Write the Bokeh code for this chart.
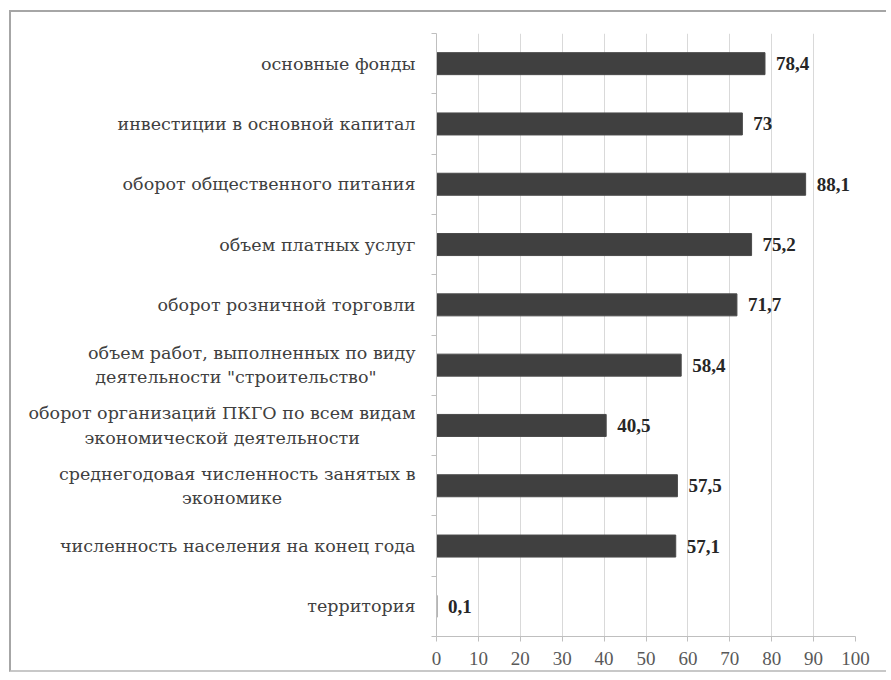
from bokeh.plotting import figure
from bokeh.models import Range1d, FixedTicker, ColumnDataSource, LabelSet
from bokeh.embed import file_html
from bokeh.resources import INLINE

# ---- data (top to bottom as in the chart) ----
categories = [
    "основные фонды",
    "инвестиции в основной капитал",
    "оборот общественного питания",
    "объем платных услуг",
    "оборот розничной торговли",
    "объем работ, выполненных по виду\nдеятельности \"строительство\"",
    "оборот организаций ПКГО по всем видам\nэкономической деятельности",
    "среднегодовая численность занятых в\nэкономике",
    "численность населения на конец года",
    "территория",
]
values = [78.4, 73.0, 88.1, 75.2, 71.7, 58.4, 40.5, 57.5, 57.1, 0.1]
value_labels = ["78,4", "73", "88,1", "75,2", "71,7", "58,4", "40,5", "57,5", "57,1", "0,1"]
x_ticks = [0, 10, 20, 30, 40, 50, 60, 70, 80, 90, 100]

SERIF = "Liberation Serif"
CAT_FONT = "DejaVu Serif"
# trailing no-break spaces that visually centre the second line of two-line labels
SECOND_LINE_PAD = {5: 7, 6: 10, 7: 24}

n = len(categories)
ypos = [n - 0.5 - i for i in range(n)]
bounds = list(range(n + 1))


def shown(i, text):
    lines = text.split("\n")
    if len(lines) == 2:
        lines[1] = lines[1] + "\u00a0" * SECOND_LINE_PAD.get(i, 0)
    return "\n".join(lines)


p = figure(width=875, height=658, output_backend="svg", toolbar_location=None,
           x_range=Range1d(0, 100), y_range=Range1d(0, n),
           frame_width=419, frame_height=603,
           min_border_left=425, min_border_right=31, min_border_top=21, min_border_bottom=34)
p.styles = {"margin-left": "9px", "margin-top": "10px",
            "border-left": "2px solid #a6a6a6", "border-top": "2px solid #a6a6a6",
            "border-bottom": "2px solid #c8c8c8"}
p.outline_line_color = None

src = ColumnDataSource(dict(y=ypos, v=values, lab=value_labels))
p.hbar(y="y", right="v", left=0, height=0.365, source=src,
       fill_color="#404040", line_color="#4a4a4a", line_width=1)

p.ygrid.grid_line_color = None
p.xgrid.grid_line_color = "#d9d9d9"
p.xgrid.ticker = FixedTicker(ticks=x_ticks)

xa = p.xaxis[0]
xa.ticker = FixedTicker(ticks=x_ticks)
xa.axis_line_color = "#bfbfbf"
xa.major_tick_line_color = "#bfbfbf"
xa.major_tick_out = 5
xa.major_tick_in = 0
xa.minor_tick_line_color = None
xa.major_label_text_font = SERIF
xa.major_label_text_font_size = "19px"
xa.major_label_text_color = "#595959"
xa.major_label_standoff = 10

ya = p.yaxis[0]
ya.ticker = FixedTicker(ticks=ypos, minor_ticks=bounds)
ya.major_label_overrides = {y: shown(i, c) for i, (y, c) in enumerate(zip(ypos, categories))}
ya.axis_line_color = "#bfbfbf"
ya.major_tick_line_color = None
ya.major_tick_out = 0
ya.major_tick_in = 0
ya.minor_tick_line_color = "#bfbfbf"
ya.minor_tick_out = 5
ya.minor_tick_in = 0
ya.major_label_standoff = 16
ya.major_label_text_font = CAT_FONT
ya.major_label_text_font_size = "17.5px"
ya.major_label_text_color = "#404040"
ya.major_label_text_line_height = 1.22

p.add_layout(LabelSet(x="v", y="y", text="lab", source=src, x_offset=11,
                      text_baseline="middle", text_font=SERIF, text_font_style="bold",
                      text_font_size="19px", text_color="#262626"))

open("out.html", "w").write(file_html(p, INLINE))
